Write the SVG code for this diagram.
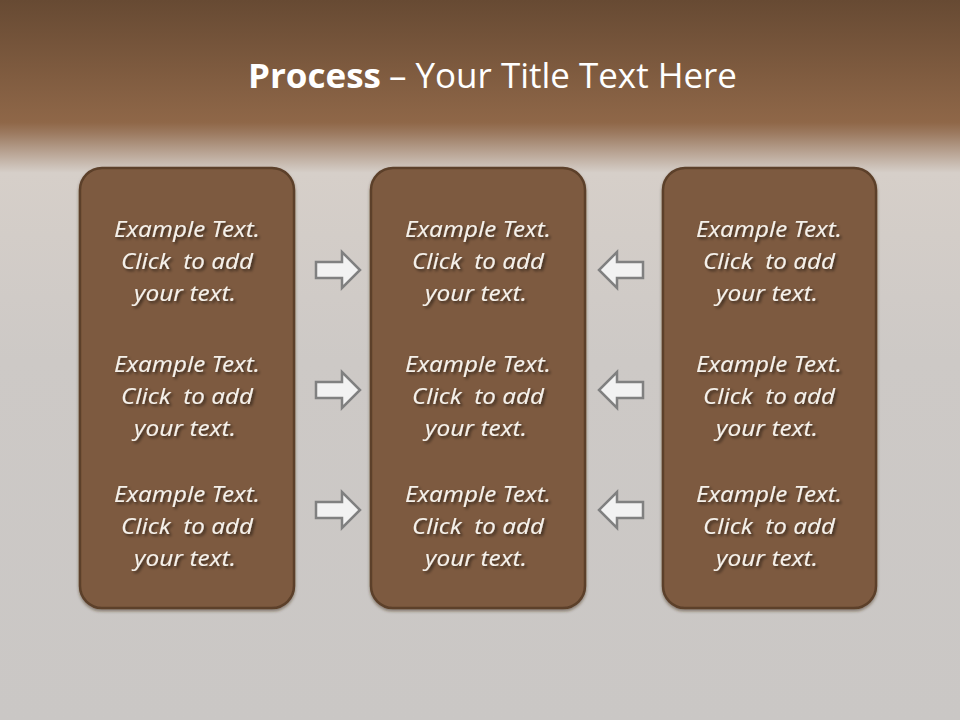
<svg xmlns="http://www.w3.org/2000/svg" width="960" height="720" viewBox="0 0 960 720">
<defs>
<linearGradient id="bg" x1="0" y1="0" x2="0" y2="1">
<stop offset="0" stop-color="#674a33"/>
<stop offset="0.17" stop-color="#8f6748"/>
<stop offset="0.185" stop-color="#9c7a60"/>
<stop offset="0.24" stop-color="#d6cfc9"/>
<stop offset="0.5" stop-color="#cdc9c6"/>
<stop offset="1" stop-color="#cac7c5"/>
</linearGradient>
<filter id="sh" x="-10%" y="-10%" width="130%" height="140%">
<feDropShadow dx="2" dy="2" stdDeviation="1.5" flood-color="#000" flood-opacity="0.55"/>
</filter>
<filter id="bsh" x="-5%" y="-5%" width="110%" height="110%">
<feDropShadow dx="0" dy="2" stdDeviation="1.5" flood-color="#3a2718" flood-opacity="0.5"/>
</filter>
<path id="ar" d="M-22,-8 L4,-8 L4,-18 L22,0 L4,18 L4,8 L-22,8 Z"/>
</defs>
<style>
.box{fill:#7d5a3f;stroke:#5b3f29;stroke-width:2.5}
.t{font-family:"Noto Sans","Open Sans",sans-serif;font-style:italic;font-size:22px;fill:#f4f0ea;text-anchor:middle}
.arw{fill:#f2f2f2;stroke:#808080;stroke-width:2.5}
.title{font-family:"Open Sans","Noto Sans",sans-serif;font-size:34px;fill:#ffffff}
</style>
<rect width="960" height="720" fill="url(#bg)"/>
<text class="title" x="248" y="88"><tspan font-weight="bold" textLength="133" lengthAdjust="spacingAndGlyphs">Process</tspan><tspan x="389" textLength="348" lengthAdjust="spacingAndGlyphs">– Your Title Text Here</tspan></text>

<g id="box-left" filter="url(#bsh)"><rect class="box" x="80" y="168" width="214" height="440" rx="22"/></g>
<g id="box-middle" filter="url(#bsh)"><rect class="box" x="371" y="168" width="214" height="440" rx="22"/></g>
<g id="box-right" filter="url(#bsh)"><rect class="box" x="663" y="168" width="213" height="440" rx="22"/></g>

<g id="texts" class="t" filter="url(#sh)">
<g id="left-texts">
<text x="187" y="237" textLength="146" lengthAdjust="spacingAndGlyphs">Example Text.</text>
<text x="187" y="269" textLength="132" lengthAdjust="spacingAndGlyphs" xml:space="preserve">Click  to add</text>
<text x="185" y="301" textLength="102" lengthAdjust="spacingAndGlyphs">your text.</text>
<text x="187" y="372" textLength="146" lengthAdjust="spacingAndGlyphs">Example Text.</text>
<text x="187" y="404" textLength="132" lengthAdjust="spacingAndGlyphs" xml:space="preserve">Click  to add</text>
<text x="185" y="436" textLength="102" lengthAdjust="spacingAndGlyphs">your text.</text>
<text x="187" y="502" textLength="146" lengthAdjust="spacingAndGlyphs">Example Text.</text>
<text x="187" y="534" textLength="132" lengthAdjust="spacingAndGlyphs" xml:space="preserve">Click  to add</text>
<text x="185" y="566" textLength="102" lengthAdjust="spacingAndGlyphs">your text.</text>
</g>
<g id="middle-texts">
<text x="478" y="237" textLength="146" lengthAdjust="spacingAndGlyphs">Example Text.</text>
<text x="478" y="269" textLength="132" lengthAdjust="spacingAndGlyphs" xml:space="preserve">Click  to add</text>
<text x="476" y="301" textLength="102" lengthAdjust="spacingAndGlyphs">your text.</text>
<text x="478" y="372" textLength="146" lengthAdjust="spacingAndGlyphs">Example Text.</text>
<text x="478" y="404" textLength="132" lengthAdjust="spacingAndGlyphs" xml:space="preserve">Click  to add</text>
<text x="476" y="436" textLength="102" lengthAdjust="spacingAndGlyphs">your text.</text>
<text x="478" y="502" textLength="146" lengthAdjust="spacingAndGlyphs">Example Text.</text>
<text x="478" y="534" textLength="132" lengthAdjust="spacingAndGlyphs" xml:space="preserve">Click  to add</text>
<text x="476" y="566" textLength="102" lengthAdjust="spacingAndGlyphs">your text.</text>
</g>
<g id="right-texts">
<text x="769" y="237" textLength="146" lengthAdjust="spacingAndGlyphs">Example Text.</text>
<text x="769" y="269" textLength="132" lengthAdjust="spacingAndGlyphs" xml:space="preserve">Click  to add</text>
<text x="767" y="301" textLength="102" lengthAdjust="spacingAndGlyphs">your text.</text>
<text x="769" y="372" textLength="146" lengthAdjust="spacingAndGlyphs">Example Text.</text>
<text x="769" y="404" textLength="132" lengthAdjust="spacingAndGlyphs" xml:space="preserve">Click  to add</text>
<text x="767" y="436" textLength="102" lengthAdjust="spacingAndGlyphs">your text.</text>
<text x="769" y="502" textLength="146" lengthAdjust="spacingAndGlyphs">Example Text.</text>
<text x="769" y="534" textLength="132" lengthAdjust="spacingAndGlyphs" xml:space="preserve">Click  to add</text>
<text x="767" y="566" textLength="102" lengthAdjust="spacingAndGlyphs">your text.</text>
</g>
</g>

<g id="connectors" class="arw">
<use href="#ar" transform="translate(338,270)"/>
<use href="#ar" transform="translate(338,390)"/>
<use href="#ar" transform="translate(338,510)"/>
<use href="#ar" transform="translate(621,270) scale(-1,1)"/>
<use href="#ar" transform="translate(621,390) scale(-1,1)"/>
<use href="#ar" transform="translate(621,510) scale(-1,1)"/>
</g>
</svg>
